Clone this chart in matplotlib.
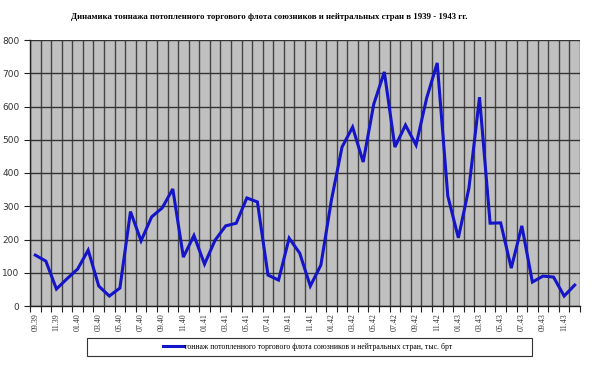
import numpy as np
import matplotlib.pyplot as plt
from matplotlib.patches import Rectangle

# monthly tonnage sunk, thousand GRT, 09.1939 - 12.1943
months = [f"{m:02d}.{y}" for y, ms in ((39, range(9, 13)), (40, range(1, 13)),
                                     (41, range(1, 13)), (42, range(1, 13)),
                                     (43, range(1, 13))) for m in ms]
tonnage = [153, 135, 51, 82, 111, 168, 60, 30, 54, 284, 196, 268, 295, 352,
           147, 212, 126, 198, 241, 249, 325, 313, 93, 78, 204, 159, 60, 123,
           319, 478, 538, 433, 607, 704, 478, 544, 484, 625, 731, 331, 205,
           355, 628, 249, 250, 114, 241, 72, 90, 87, 30, 63]

title = "Динамика тоннажа потопленного торгового флота союзников и нейтральных стран в 1939 - 1943 гг."
series_label = "тоннаж потопленного торгового флота союзников и нейтральных стран, тыс. брт"

serif = ["Liberation Serif", "DejaVu Serif"]

fig = plt.figure(figsize=(6, 3.66), dpi=100)
ax = fig.add_axes([30 / 600, 1 - 306 / 366, 550 / 600, 266 / 366])
ax.set_facecolor("#c0c0c0")

x = np.arange(len(tonnage))
line, = ax.plot(x, tonnage, color="#1414c8", lw=2.2, solid_joinstyle="miter")

ax.set_xlim(-0.5, len(tonnage) - 0.5)
ax.set_ylim(0, 800)
ax.set_yticks(range(0, 801, 100))
ax.set_xticks(x[::2])
ax.set_xticklabels(months[::2], rotation=90, fontsize=5.8, family=serif, color="#333333")
ax.set_xticks(np.arange(-0.5, len(tonnage)), minor=True)
ax.tick_params(axis="x", which="major", length=0, pad=5)
ax.tick_params(axis="x", which="minor", length=4, width=0.8, color="#222222")
ax.tick_params(axis="y", length=4, width=0.8, labelsize=6.5, colors="#222222")
for lab in ax.get_yticklabels():
    lab.set_color("#333333")

ax.grid(axis="y", color="#333333", lw=1.0)
ax.grid(axis="x", which="minor", color="#444444", lw=1.0)
ax.set_axisbelow(True)
for s in ("top", "right"):
    ax.spines[s].set_visible(False)
for s in ("left", "bottom"):
    ax.spines[s].set_color("#222222")
    ax.spines[s].set_linewidth(1.0)

fig.text(269 / 600, 1 - 17 / 366, title, ha="center", va="center",
         fontsize=6.3, fontweight="bold", family=serif)

# legend box
fig.patches.append(Rectangle((87 / 600, 1 - 356 / 366), 445 / 600, 18 / 366,
                             transform=fig.transFigure, fill=False,
                             edgecolor="#333333", lw=0.8))
fig.legend([line], [series_label], loc="center",
           bbox_to_anchor=(308 / 600, 1 - 347 / 366), frameon=False,
           prop={"family": serif, "size": 5.6}, handlelength=2.6,
           handletextpad=0.1, borderpad=0)

fig.savefig("out.png", dpi=100)
